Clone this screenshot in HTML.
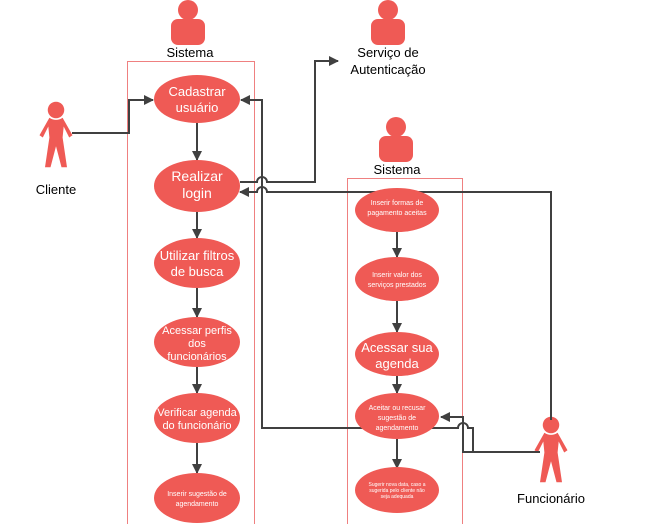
<!DOCTYPE html>
<html><head><meta charset="utf-8"><style>
body{margin:0;background:#fff;width:655px;height:524px;overflow:hidden}
svg{display:block;font-family:"Liberation Sans",sans-serif}
</style></head><body>
<svg width="655" height="524" viewBox="0 0 655 524" xmlns="http://www.w3.org/2000/svg">
<defs>
<marker id="a" markerWidth="10" markerHeight="10" refX="9" refY="5" orient="auto" markerUnits="userSpaceOnUse">
<path d="M0,0 L10,5 L0,10 Z" fill="#404040"/></marker>
<g id="stk"><circle cx="0" cy="0" r="7.5" fill="#ef5a55"/><path d="M-6,7 Q0,11 6,7 L15,23 L12,25 L7,15 L6,25 L10,52 L5,52 L0,33 L-5,52 L-10,52 L-6,25 L-7,15 L-12,25 L-15,23 Z" fill="#ef5a55"/></g>
<g id="usr"><circle cx="0" cy="-12" r="10" fill="#ef5a55"/><rect x="-17" y="-3" width="34" height="26" rx="7" fill="#ef5a55"/></g>
</defs>
<rect x="127.5" y="61.5" width="127" height="470" fill="none" stroke="#ef8080"/>
<rect x="347.5" y="178.5" width="115" height="360" fill="none" stroke="#ef8080"/>
<use href="#usr" x="188" y="22"/><text x="190" y="57" font-size="13" text-anchor="middle">Sistema</text>
<use href="#usr" x="388" y="22"/><text x="388" y="57" font-size="13" text-anchor="middle">Serviço de</text><text x="388" y="74" font-size="13" text-anchor="middle">Autenticação</text>
<use href="#usr" x="396" y="139"/><text x="397" y="174" font-size="13" text-anchor="middle">Sistema</text>
<use href="#stk" transform="translate(56,110) scale(1.1)"/><text x="56" y="194" font-size="13" text-anchor="middle">Cliente</text>
<use href="#stk" transform="translate(551,425) scale(1.1)"/><text x="551" y="503" font-size="13" text-anchor="middle">Funcionário</text>
<g stroke="#404040" stroke-width="2" fill="none">
<path d="M72,133 H129 V100 H153" marker-end="url(#a)"/>
<path d="M240,182 H257 a5,5 0 0 1 10,0 H315 V61 H338" marker-end="url(#a)"/>
<path d="M551,420 V192 H267 a5,5 0 0 0 -10,0 H240" marker-end="url(#a)"/>
<path d="M473,452 V428 H468 a5,5 0 0 0 -10,0 H262 V100 H241" marker-end="url(#a)"/>
<path d="M540,452 H463 V417 H441" marker-end="url(#a)"/>
<path d="M197,123 V160" marker-end="url(#a)"/><path d="M197,212 V238" marker-end="url(#a)"/>
<path d="M197,288 V317" marker-end="url(#a)"/><path d="M197,367 V393" marker-end="url(#a)"/>
<path d="M197,443 V473" marker-end="url(#a)"/>
<path d="M397,230 V257" marker-end="url(#a)"/><path d="M397,301 V332" marker-end="url(#a)"/>
<path d="M397,376 V393" marker-end="url(#a)"/><path d="M397,439 V468" marker-end="url(#a)"/>
</g>
<g fill="#ef5a55">
<ellipse cx="197" cy="99" rx="43" ry="24"/><ellipse cx="197" cy="186" rx="43" ry="26"/>
<ellipse cx="197" cy="263" rx="43" ry="25"/><ellipse cx="197" cy="342" rx="43" ry="25"/>
<ellipse cx="197" cy="418" rx="43" ry="25"/><ellipse cx="197" cy="498" rx="43" ry="25"/>
<ellipse cx="397" cy="210" rx="42" ry="22"/><ellipse cx="397" cy="279" rx="42" ry="22"/>
<ellipse cx="397" cy="354" rx="42" ry="22"/><ellipse cx="397" cy="416" rx="42" ry="23"/>
<ellipse cx="397" cy="490" rx="42" ry="23"/>
</g>
<g fill="#fff" text-anchor="middle">
<text x="197" y="96" font-size="13">Cadastrar</text><text x="197" y="112" font-size="13">usuário</text>
<text x="197" y="181" font-size="14">Realizar</text><text x="197" y="198" font-size="14">login</text>
<text x="197" y="260" font-size="13">Utilizar filtros</text><text x="197" y="276" font-size="13">de busca</text>
<text x="197" y="334" font-size="11">Acessar perfis</text><text x="197" y="347" font-size="11">dos</text><text x="197" y="360" font-size="11">funcionários</text>
<text x="197" y="416" font-size="11">Verificar agenda</text><text x="197" y="429" font-size="11">do funcionário</text>
<text x="197" y="496" font-size="7">Inserir sugestão de</text><text x="197" y="506" font-size="7">agendamento</text>
<text x="397" y="205" font-size="7">Inserir formas de</text><text x="397" y="215" font-size="7">pagamento aceitas</text>
<text x="397" y="277" font-size="7">Inserir valor dos</text><text x="397" y="287" font-size="7">serviços prestados</text>
<text x="397" y="352" font-size="13">Acessar sua</text><text x="397" y="368" font-size="13">agenda</text>
<text x="397" y="410" font-size="7">Aceitar ou recusar</text><text x="397" y="420" font-size="7">sugestão de</text><text x="397" y="430" font-size="7">agendamento</text>
<text x="397" y="486" font-size="5">Sugerir nova data, caso a</text><text x="397" y="492" font-size="5">sugerida pelo cliente não</text><text x="397" y="498" font-size="5">seja adequada</text>
</g>
</svg>
</body></html>
